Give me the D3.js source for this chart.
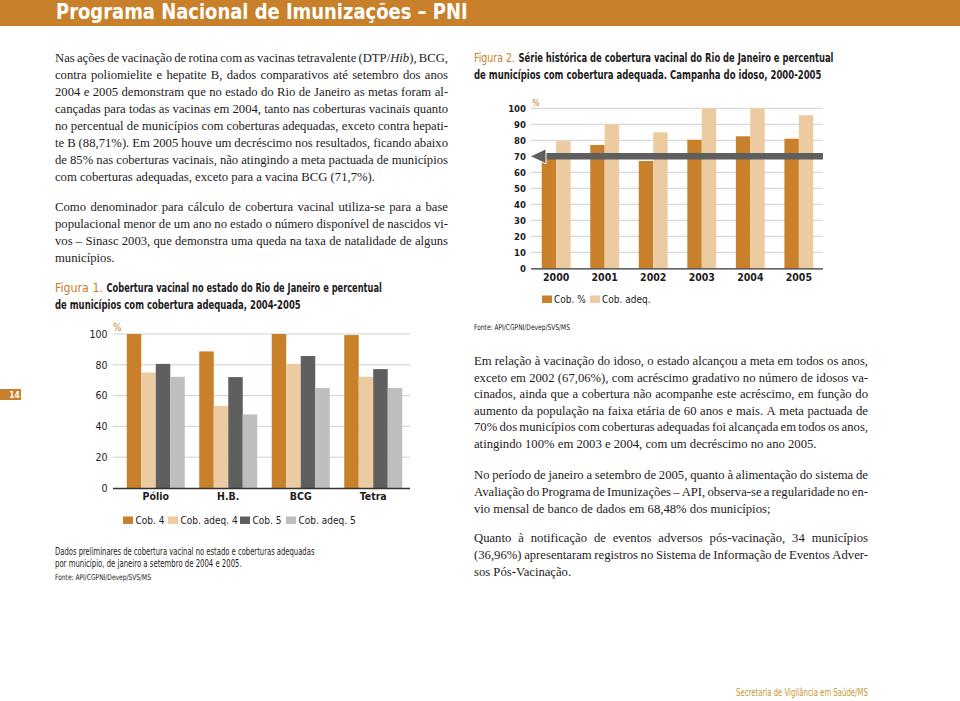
<!DOCTYPE html>
<html><head><meta charset="utf-8">
<script src="https://cdn.jsdelivr.net/npm/d3@7"></script>
<style>
html,body{margin:0;padding:0;background:#fff;}
svg{display:block;}
</style></head>
<body>
<svg id="page" width="960" height="701"></svg>
<script>
// ---------- Figure 1 data ----------
const fig1Categories = ["Pólio", "H.B.", "BCG", "Tetra"];
const fig1Series = ["Cob. 4", "Cob. adeq. 4", "Cob. 5", "Cob. adeq. 5"];
const cob4 = [100, 88.7, 100, 99.3];
const cobAdeq4 = [75, 53.3, 80.6, 72.2];
const cob5 = [80.6, 72, 85.7, 77.2];
const cobAdeq5 = [72.2, 47.8, 65, 65];
const fig1Ticks = [0, 20, 40, 60, 80, 100];

// ---------- Figure 2 data ----------
const fig2Years = ["2000", "2001", "2002", "2003", "2004", "2005"];
const fig2Series = ["Cob. %", "Cob. adeq."];
const cobPct = [71, 77.1, 67.1, 80.3, 82.5, 81];
const cobAdeq = [79.5, 90, 85, 100, 100, 95.7];
const metaPactuada = 70;
const fig2Ticks = [0, 10, 20, 30, 40, 50, 60, 70, 80, 90, 100];

const ORANGE = "#c8812a", TAN = "#edcba0", DARK = "#5f5f5f", LIGHT = "#bebebe";
const SANS = "'Liberation Sans Narrow','DejaVu Sans Condensed','Roboto Condensed',Roboto,'Open Sans',sans-serif";
const SERIF = "'Liberation Serif','DejaVu Serif',serif";
const TXT = "#1e1b1c";

const svg = d3.select("#page");

// text squeezed/stretched horizontally to an exact width (keeps glyph height)
function fitText(x, y, txt, targetW, opts) {
  const t = svg.append("text").attr("font-family", SANS)
    .attr("font-size", opts.size).attr("font-weight", opts.bold ? "bold" : null)
    .attr("fill", opts.fill || TXT).text(txt);
  const nat = t.node().getComputedTextLength();
  const sx = targetW / nat;
  t.attr("transform", `translate(${x},${y}) scale(${sx},1)`);
  return targetW;
}

// ---------- Header ----------
svg.append("rect").attr("x", 0).attr("y", 0).attr("width", 960).attr("height", 26).attr("fill", ORANGE);
fitText(56, 18.5, "Programa Nacional de Imunizações – PNI", 412, {size: 21, bold: true, fill: "#fff"});

// ---------- body text (justified) ----------
const paragraphs = [
  {x: 55, y: 61.5, lh: 17.1, w: 393, lines: [
    "Nas ações de vacinação de rotina com as vacinas tetravalente (DTP/_Hib_), BCG,",
    "contra poliomielite e hepatite B, dados comparativos até setembro dos anos",
    "2004 e 2005 demonstram que no estado do Rio de Janeiro as metas foram al-",
    "cançadas para todas as vacinas em 2004, tanto nas coberturas vacinais quanto",
    "no percentual de municípios com coberturas adequadas, exceto contra hepati-",
    "te B (88,71%). Em 2005 houve um decréscimo nos resultados, ficando abaixo",
    "de 85% nas coberturas vacinais, não atingindo a meta pactuada de municípios",
    "com coberturas adequadas, exceto para a vacina BCG (71,7%)."]},
  {x: 55, y: 211, lh: 17.1, w: 393, lines: [
    "Como denominador para cálculo de cobertura vacinal utiliza-se para a base",
    "populacional menor de um ano no estado o número disponível de nascidos vi-",
    "vos – Sinasc 2003, que demonstra uma queda na taxa de natalidade de alguns",
    "municípios."]},
  {x: 474, y: 365, lh: 16.5, w: 394, lines: [
    "Em relação à vacinação do idoso, o estado alcançou a meta em todos os anos,",
    "exceto em 2002 (67,06%), com acréscimo gradativo no número de idosos va-",
    "cinados, ainda que a cobertura não acompanhe este acréscimo, em função do",
    "aumento da população na faixa etária de 60 anos e mais. A meta pactuada de",
    "70% dos municípios com coberturas adequadas foi alcançada em todos os anos,",
    "atingindo 100% em 2003 e 2004, com um decréscimo no ano 2005."]},
  {x: 474, y: 479, lh: 16.8, w: 394, lines: [
    "No período de janeiro a setembro de 2005, quanto à alimentação do sistema de",
    "Avaliação do Programa de Imunizações – API, observa-se a regularidade no en-",
    "vio mensal de banco de dados em 68,48% dos municípios;"]},
  {x: 474, y: 542, lh: 16.8, w: 394, lines: [
    "Quanto à notificação de eventos adversos pós-vacinação, 34 municípios",
    "(36,96%) apresentaram registros no Sistema de Informação de Eventos Adver-",
    "sos Pós-Vacinação."]}
];

function addParts(sel, word) {
  word.split("_").forEach((p, k) => {
    if (p) sel.append("tspan").attr("font-style", k % 2 ? "italic" : "normal").text(p);
  });
}
function measureWord(word, size) {
  const t = svg.append("text").attr("font-family", SERIF).attr("font-size", size);
  addParts(t, word);
  const w = t.node().getComputedTextLength();
  t.remove();
  return w;
}
const baseSize = 14;
let ratios = [];
paragraphs.forEach(p => p.lines.slice(0, -1).forEach(l => {
  ratios.push(p.w / measureWord(l.replace(/ /g, "\u00a0"), baseSize));
}));
const bodySize = Math.min(15, baseSize * d3.median(ratios));

paragraphs.forEach(p => {
  p.lines.forEach((line, i) => {
    const y = p.y + i * p.lh;
    const t = svg.append("text").attr("y", y).attr("font-family", SERIF)
      .attr("font-size", bodySize).attr("fill", TXT);
    const words = line.split(" ");
    const last = i === p.lines.length - 1;
    const widths = words.map(w => measureWord(w, bodySize));
    const total = d3.sum(widths);
    const natSpace = bodySize * 0.25;
    let gap = last ? natSpace : (p.w - total) / (words.length - 1);
    let sx = 1;
    if (!last && gap < natSpace * 0.55) {
      gap = natSpace * 0.55;
      sx = (p.w - gap * (words.length - 1)) / total;
    }
    let cx = p.x;
    words.forEach((w, k) => {
      const ts = t.append("tspan").attr("x", cx);
      if (sx !== 1) ts.attr("textLength", widths[k] * sx).attr("lengthAdjust", "spacingAndGlyphs");
      addParts(ts, w);
      cx += widths[k] * sx + gap;
    });
  });
});

// ---------- captions ----------
function caption(x, y, label, rest, wLabel, xEnd, size) {
  fitText(x, y, label, wLabel, {size: size, fill: ORANGE});
  const x2 = x + wLabel + 3.5;
  fitText(x2, y, rest, xEnd - x2, {size: size, bold: true});
}
caption(55, 292, "Figura 1.", "Cobertura vacinal no estado do Rio de Janeiro e percentual", 48, 382, 13);
fitText(55, 309, "de municípios com cobertura adequada, 2004-2005", 246, {size: 13, bold: true});
caption(474, 62, "Figura 2.", "Série histórica de cobertura vacinal do Rio de Janeiro e percentual", 41, 834, 12.5);
fitText(474, 78.5, "de municípios com cobertura adequada. Campanha do idoso, 2000-2005", 348, {size: 12.5, bold: true});

// ---------- Figure 1 chart ----------
{
  const values = [cob4, cobAdeq4, cob5, cobAdeq5];
  const colors = [ORANGE, TAN, DARK, LIGHT];
  const y = d3.scaleLinear().domain([0, 100]).range([488, 334]);
  const x0 = d3.scaleBand().domain(fig1Categories).range([113, 416]).paddingInner(0.2).paddingOuter(0.19);
  const x1 = d3.scaleBand().domain(fig1Series).range([0, x0.bandwidth()]);
  const g = svg.append("g");
  g.selectAll("line.grid").data(fig1Ticks.filter(d => d > 0)).join("line")
    .attr("x1", 113).attr("x2", 410).attr("y1", d => y(d)).attr("y2", d => y(d))
    .attr("stroke", "#cfcfcf").attr("stroke-width", 1);
  fig1Series.forEach((s, si) => {
    g.selectAll("rect.s" + si).data(fig1Categories).join("rect")
      .attr("x", c => x0(c) + x1(s)).attr("width", x1.bandwidth())
      .attr("y", (c, i) => y(values[si][i])).attr("height", (c, i) => y(0) - y(values[si][i]))
      .attr("fill", colors[si]);
  });
  const ya = d3.axisLeft(y).tickValues(fig1Ticks).tickSize(0).tickPadding(3);
  const yg = g.append("g").attr("transform", "translate(110.5,0)").call(ya);
  yg.select(".domain").remove();
  yg.selectAll("text").attr("font-family", SANS).attr("font-size", 10.5).attr("fill", TXT);
  const xa = d3.axisBottom(x0).tickSize(0).tickPadding(5);
  const xg = g.append("g").attr("transform", "translate(0,488)").call(xa);
  xg.select(".domain").attr("d", "M113,0.5H410").attr("stroke", "#333").attr("stroke-width", 1.3);
  xg.selectAll("text").attr("font-family", SANS).attr("font-weight", "bold").attr("font-size", 10.5).attr("fill", TXT);
  g.append("text").attr("x", 113).attr("y", 331).attr("font-family", SANS).attr("font-size", 10).attr("fill", ORANGE).text("%");
  const legX = [123, 168, 240, 286];
  fig1Series.forEach((s, si) => {
    g.append("rect").attr("x", legX[si]).attr("y", 516.5).attr("width", 10).attr("height", 7.5).attr("fill", colors[si]);
    g.append("text").attr("x", legX[si] + 12.5).attr("y", 524).attr("font-family", SANS).attr("font-size", 10).attr("fill", TXT).text(s);
  });
  fitText(55, 555, "Dados preliminares de cobertura vacinal no estado e coberturas adequadas", 260, {size: 10});
  fitText(55, 567, "por município, de janeiro a setembro de 2004 e 2005.", 187, {size: 10});
  fitText(55, 579.5, "Fonte: API/CGPNI/Devep/SVS/MS", 96, {size: 8});
}

// ---------- Figure 2 chart ----------
{
  const values = [cobPct, cobAdeq];
  const colors = [ORANGE, TAN];
  const y = d3.scaleLinear().domain([0, 100]).range([268.3, 108.3]);
  const x0 = d3.scaleBand().domain(fig2Years).range([532, 823]).paddingInner(0.405).paddingOuter(0.2);
  const x1 = d3.scaleBand().domain(fig2Series).range([0, x0.bandwidth()]);
  const g = svg.append("g");
  g.selectAll("line.grid").data(fig2Ticks.filter(d => d > 0)).join("line")
    .attr("x1", 531).attr("x2", 823).attr("y1", d => y(d)).attr("y2", d => y(d))
    .attr("stroke", "#cfcfcf").attr("stroke-width", 1);
  fig2Series.forEach((s, si) => {
    g.selectAll("rect.s" + si).data(fig2Years).join("rect")
      .attr("x", c => x0(c) + x1(s)).attr("width", x1.bandwidth())
      .attr("y", (c, i) => y(values[si][i])).attr("height", (c, i) => y(0) - y(values[si][i]))
      .attr("fill", colors[si]);
  });
  const ya = d3.axisLeft(y).tickValues(fig2Ticks).tickSize(0).tickPadding(3);
  const yg = g.append("g").attr("transform", "translate(529,0)").call(ya);
  yg.select(".domain").remove();
  yg.selectAll("text").attr("font-family", SANS).attr("font-weight", "bold").attr("font-size", 9.5).attr("fill", TXT);
  const xa = d3.axisBottom(x0).tickSize(0).tickPadding(5);
  const xg = g.append("g").attr("transform", "translate(0,268.3)").call(xa);
  xg.select(".domain").attr("d", "M531,0.5H823").attr("stroke", "#333").attr("stroke-width", 1.3);
  xg.selectAll("text").attr("font-family", SANS).attr("font-weight", "bold").attr("font-size", 10.5).attr("fill", TXT);
  g.append("text").attr("x", 532).attr("y", 106).attr("font-family", SANS).attr("font-size", 9).attr("fill", ORANGE).text("%");
  const ym = y(metaPactuada);
  g.append("line").attr("x1", 543).attr("x2", 823).attr("y1", ym).attr("y2", ym)
    .attr("stroke", DARK).attr("stroke-width", 6.5);
  g.append("path").attr("d", `M530,${ym}L546,${ym - 7.5}L546,${ym + 7.5}Z`)
    .attr("fill", DARK).attr("stroke", "#fff").attr("stroke-width", 1);
  const legX = [542, 590];
  fig2Series.forEach((s, si) => {
    g.append("rect").attr("x", legX[si]).attr("y", 295.5).attr("width", 10).attr("height", 7.5).attr("fill", colors[si]);
    g.append("text").attr("x", legX[si] + 12).attr("y", 303).attr("font-family", SANS).attr("font-size", 10).attr("fill", TXT).text(s);
  });
  fitText(474, 330, "Fonte: API/CGPNI/Devep/SVS/MS", 96, {size: 8});
}

// ---------- page number & footer ----------
svg.append("rect").attr("x", 0).attr("y", 389).attr("width", 21).attr("height", 11).attr("fill", ORANGE);
svg.append("text").attr("x", 14.5).attr("y", 397.8).attr("text-anchor", "middle").attr("font-family", SANS)
  .attr("font-weight", "bold").attr("font-size", 8.5).attr("fill", "#fff").text("14");
fitText(736, 696, "Secretaria de Vigilância em Saúde/MS", 132, {size: 10.5, fill: "#c9962f"});
</script>
</body></html>
